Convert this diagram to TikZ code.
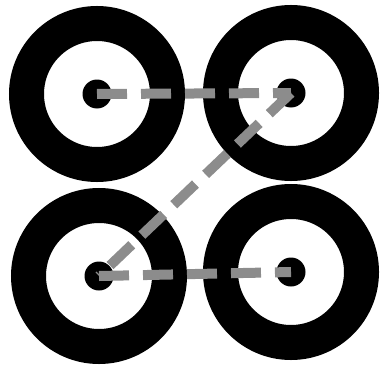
\documentclass[tikz,border=0pt]{standalone}
\usepackage{tikz}
\usetikzlibrary{calc,positioning}
\tikzset{
  target/.style={circle,draw=black,line width=35pt,minimum size=141pt,inner sep=0pt},
  bull/.style={circle,fill=black,minimum size=29pt,inner sep=0pt},
  hop/.style={draw=black!45,line width=10pt,dash pattern=on 30pt off 14pt}
}
\begin{document}
\begin{tikzpicture}[x=1pt,y=-1pt]
  \useasboundingbox (0,0) rectangle (382,369);
  \foreach \x/\y/\n in {97/94/tl,291/93/tr,99/276/bl,291/272/br}{
    \node[target] (r\n) at (\x,\y) {};
    \node[bull] (d\n) at (\x,\y) {};
  }
  \draw[hop] (dtl.center) -- (dtr.center);
  \draw[hop] (dtr.center) -- (dbl.center);
  \draw[hop] (dbl.center) -- (dbr.center);
\end{tikzpicture}
\end{document}
